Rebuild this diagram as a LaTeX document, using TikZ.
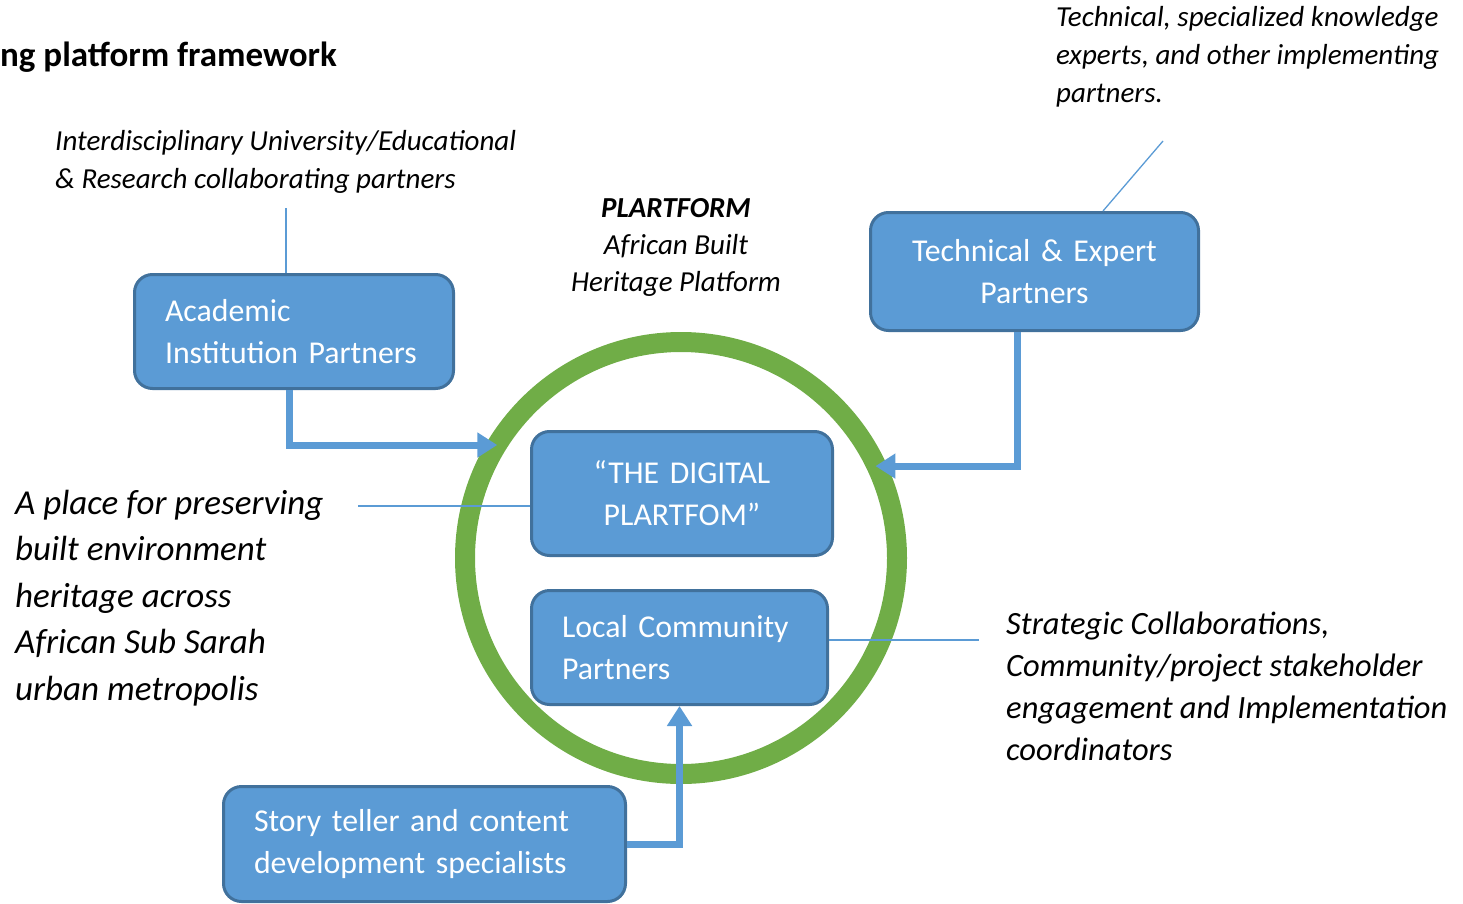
\documentclass[tikz,border=0pt]{standalone}
\usepackage{fontspec}
\setmainfont{Carlito}
\usetikzlibrary{arrows.meta}
\definecolor{boxblue}{HTML}{5B9BD5}
\definecolor{boxedge}{HTML}{41719C}
\definecolor{ringgreen}{HTML}{70AD47}

\begin{document}
\begin{tikzpicture}[x=1pt,y=-1pt,
  box/.style={draw=boxedge,line width=3pt,fill=boxblue,rounded corners=18pt,text=white,inner sep=0pt,font=\fontsize{31.8}{42}\selectfont},
  note/.style={inner sep=0pt,anchor=base west,align=left,font=\itshape\fontsize{29}{38}\selectfont},
  flow/.style={draw=boxblue,line width=7pt,-{Triangle[length=20pt,width=24pt]},shorten >=-12pt},
  link/.style={draw=boxblue,line width=1.3pt}]
\useasboundingbox (0,0) rectangle (1463,904);

% heading and side notes (anchored on their last line)
\node[inner sep=0pt,anchor=base west,font=\bfseries\fontsize{35}{40}\selectfont] (title) at (0,67) {ng platform framework};
\node[note] (acadnote) at (55,189) {Interdisciplinary University/Educational\\\& Research collaborating partners};
\node[note] (technote) at (1056,103) {Technical, specialized knowledge\\experts, and other implementing\\partners.};
\node[inner sep=0pt,anchor=base,align=center,font=\itshape\fontsize{29}{37}\selectfont] (platform) at (676,291) {\textbf{PLARTFORM}\\African Built\\Heritage Platform};
\node[note,font=\itshape\fontsize{35}{46.5}\selectfont] (placenote) at (15,700) {A place for preserving\\built environment\\heritage across\\African Sub Sarah\\urban metropolis};
\node[note,font=\itshape\fontsize{32.5}{42}\selectfont] (stratnote) at (1006,760) {Strategic Collaborations,\\Community/project stakeholder\\engagement and Implementation\\coordinators};

% the platform ring
\node (ring) at (681,558) [circle,draw=ringgreen,line width=20pt,minimum size=432pt,inner sep=0pt] {};

% partner boxes
\node (acad) at (294,331.5) [box,minimum width=319pt,minimum height=114pt,text width=258pt,align=left] {Academic\\Institution Partners};
\node (tech) at (1034.5,271.5) [box,minimum width=328pt,minimum height=118pt,text width=300pt,align=center] {Technical \& Expert\\Partners};
\node (digital) at (682,493.5) [box,minimum width=301pt,minimum height=124pt,text width=280pt,align=center] {“THE DIGITAL\\PLARTFOM”};
\node (local) at (679.5,647.5) [box,minimum width=296pt,minimum height=114pt,text width=235pt,align=left] {Local Community\\Partners};
\node (story) at (424.5,844) [box,minimum width=402pt,minimum height=115pt,text width=341pt,align=left] {Story teller and content\\development specialists};

% flows into the platform
\draw[flow] ([xshift=-5pt]acad.south) |- (ring.150);
\draw[flow] ([xshift=-17pt]tech.south) |- (ring.24);
\draw[flow,shorten >=0pt] (story.east) -| (local.south);

% thin pointer lines
\coordinate (acadtop) at (286,208);
\draw[link] (acadtop) -- (acadtop |- acad.north);
\coordinate (techtop) at (1163,141);
\draw[link] ([xshift=68.5pt]tech.north) -- (techtop);
\coordinate (leftend) at (358,506);
\draw[link] (leftend) -- (leftend -| digital.west);
\coordinate (rightend) at (979,640);
\draw[link] (rightend -| local.east) -- (rightend);
\end{tikzpicture}
\end{document}
